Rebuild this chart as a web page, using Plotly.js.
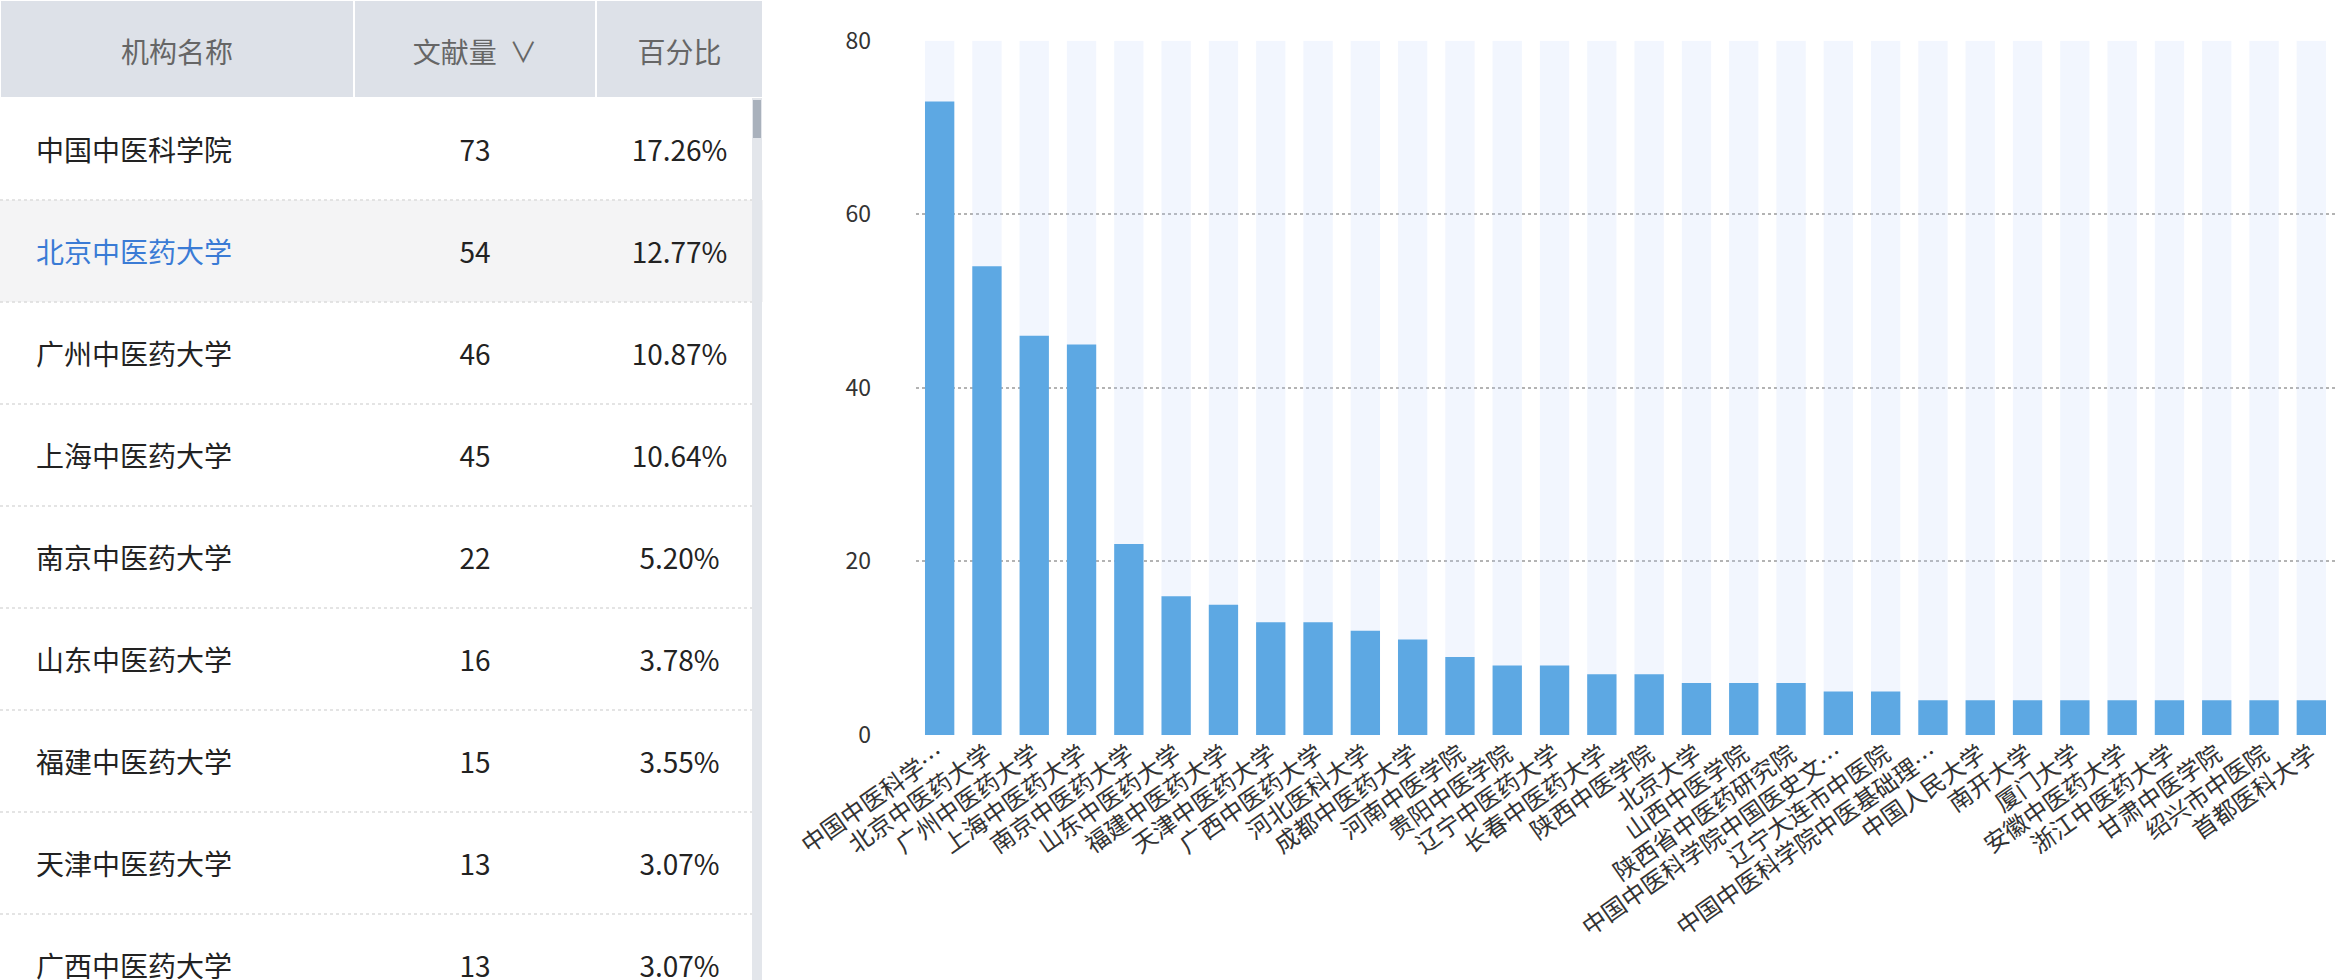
<!DOCTYPE html>
<html>
<head>
<meta charset="utf-8">
<script src="https://cdn.plot.ly/plotly-3.0.1.min.js"></script>
<style>
  html, body { margin: 0; padding: 0; background: #fff; }
  #chart { width: 2352px; height: 980px; }
</style>
</head>
<body>
<div id="chart"></div>
<script>
// bar chart data
const orgLabels = [
  "中国中医科学…", "北京中医药大学", "广州中医药大学", "上海中医药大学", "南京中医药大学",
  "山东中医药大学", "福建中医药大学", "天津中医药大学", "广西中医药大学", "河北医科大学",
  "成都中医药大学", "河南中医学院", "贵阳中医学院", "辽宁中医药大学", "长春中医药大学",
  "陕西中医学院", "北京大学", "山西中医学院", "陕西省中医药研究院", "中国中医科学院中国医史文…",
  "辽宁大连市中医院", "中国中医科学院中医基础理…", "中国人民大学", "南开大学", "厦门大学",
  "安徽中医药大学", "浙江中医药大学", "甘肃中医学院", "绍兴市中医院", "首都医科大学"
]
const docCounts = [73, 54, 46, 45, 22, 16, 15, 13, 13, 12, 11, 9, 8, 8, 7, 7, 6, 6, 6, 5, 5, 4, 4, 4, 4, 4, 4, 4, 4, 4]
const yTicks = [0, 20, 40, 60, 80]

// table data (visible rows)
const tableHeaders = ["机构名称", "文献量  ∨", "百分比"]
const tableNames = ["中国中医科学院", "北京中医药大学", "广州中医药大学", "上海中医药大学", "南京中医药大学", "山东中医药大学", "福建中医药大学", "天津中医药大学", "广西中医药大学"]
const tableCounts = [73, 54, 46, 45, 22, 16, 15, 13, 13]
const tablePercents = ["17.26%", "12.77%", "10.87%", "10.64%", "5.20%", "3.78%", "3.55%", "3.07%", "3.07%"]
const highlightRow = 1

const W = 2352, H = 980
const px = x => x / W
const py = y => 1 - y / H

const FONT = "Noto Sans CJK SC, Noto Sans, sans-serif"
const headerH = 98, rowH = 102
const tableRight = 763

const yMax = yTicks[yTicks.length - 1]

// plotly tables put text at the top of a cell, a small blank first line pushes it down to the middle
const mid = v => "<span style=\"font-size:16px\">\u00a0</span><br>" + v

const rowFill = tableNames.map((_, i) => i === highlightRow ? "#f4f4f5" : "#ffffff")
const nameColor = tableNames.map((_, i) => i === highlightRow ? "#3a7bd5" : "#222222")

const table = {
  type: "table",
  domain: {x: [0, px(tableRight)], y: [0, 1]},
  columnwidth: [354, 242, 167],
  header: {
    values: tableHeaders.map(mid),
    align: "center",
    height: headerH,
    fill: {color: "#dde1e8"},
    line: {color: "#ffffff", width: 2},
    font: {family: FONT, size: 28, color: "#666666"}
  },
  cells: {
    values: [tableNames.map(n => mid("\u2003" + n)), tableCounts.map(mid), tablePercents.map(mid)],
    align: ["left", "center", "center"],
    height: rowH,
    fill: {color: [rowFill, rowFill, rowFill]},
    line: {color: "rgba(0,0,0,0)", width: 0},
    font: {family: FONT, size: 28, color: [nameColor, "#222222", "#222222"]}
  }
}

const bgBars = {
  type: "bar", x: orgLabels, y: orgLabels.map(() => yMax),
  marker: {color: "rgba(190,210,250,0.2)"}, hoverinfo: "skip", xaxis: "x", yaxis: "y"
}
const bars = {
  type: "bar", x: orgLabels, y: docCounts,
  marker: {color: "#5da8e3"}, xaxis: "x", yaxis: "y"
}

// dotted row separators + scrollbar
const shapes = []
for (let i = 1; i <= tableNames.length; i++) {
  const y = headerH + rowH * i
  if (y >= H) break
  shapes.push({type: "line", xref: "paper", yref: "paper", layer: "above",
    x0: 0, x1: px(752), y0: py(y), y1: py(y), line: {color: "#dcdcdc", width: 1.5, dash: "dot"}})
}
shapes.push({type: "rect", xref: "paper", yref: "paper", layer: "above",
  x0: px(752), x1: px(762), y0: py(headerH), y1: 0, fillcolor: "#e3e6eb", line: {width: 0}})
shapes.push({type: "rect", xref: "paper", yref: "paper", layer: "above",
  x0: px(753), x1: px(761), y0: py(headerH + 2), y1: py(headerH + 40), fillcolor: "#a9b1bc", line: {width: 0}})

const layout = {
  width: W, height: H,
  margin: {l: 0, r: 0, t: 0, b: 0},
  paper_bgcolor: "#ffffff", plot_bgcolor: "#ffffff",
  showlegend: false,
  barmode: "overlay",
  bargap: 0.38,
  font: {family: FONT, color: "#333333"},
  xaxis: {
    domain: [px(916), px(2335)],
    tickangle: -35,
    tickfont: {family: FONT, size: 24, color: "#333333"},
    showgrid: false, zeroline: false, showline: false, ticks: "",
    fixedrange: true
  },
  yaxis: {
    domain: [py(735), py(40.7)],
    range: [0, yMax],
    tickvals: yTicks,
    tickfont: {family: FONT, size: 23, color: "#333333"},
    ticklabelstandoff: 44,
    showgrid: true, gridcolor: "#b3b3b3", gridwidth: 2, griddash: "dot",
    zeroline: false, showline: false, ticks: "",
    fixedrange: true
  },
  shapes
}

Plotly.newPlot("chart", [table, bgBars, bars], layout, {displayModeBar: false, staticPlot: true})
</script>
</body>
</html>
